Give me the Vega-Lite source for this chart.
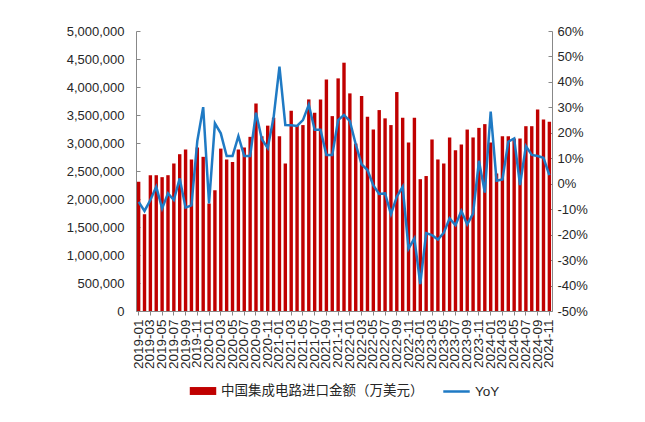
{
  "$schema": "https://vega.github.io/schema/vega-lite/v6.json",
  "width": 416,
  "height": 280,
  "padding": {"left": 66, "top": 25, "right": 10, "bottom": 10},
  "background": "white",
  "data": {"values": [
    {"month": "2019-01", "value": 2306000, "yoy": -7.1},
    {"month": "2019-02", "value": 1728000, "yoy": -10.7},
    {"month": "2019-03", "value": 2425000, "yoy": -6.4},
    {"month": "2019-04", "value": 2425000, "yoy": -1.2},
    {"month": "2019-05", "value": 2390000, "yoy": -9.7},
    {"month": "2019-06", "value": 2425000, "yoy": -3.8},
    {"month": "2019-07", "value": 2634000, "yoy": -6.4},
    {"month": "2019-08", "value": 2800000, "yoy": 2.1},
    {"month": "2019-09", "value": 2884000, "yoy": -9.4},
    {"month": "2019-10", "value": 2706000, "yoy": -8.5},
    {"month": "2019-11", "value": 2920000, "yoy": 16.8},
    {"month": "2019-12", "value": 2753000, "yoy": 30.1},
    {"month": "2020-01", "value": 1919000, "yoy": -7.7},
    {"month": "2020-02", "value": 2157000, "yoy": 23.7},
    {"month": "2020-03", "value": 2900000, "yoy": 19.8},
    {"month": "2020-04", "value": 2706000, "yoy": 10.9},
    {"month": "2020-05", "value": 2660000, "yoy": 10.9},
    {"month": "2020-06", "value": 2884000, "yoy": 18.7},
    {"month": "2020-07", "value": 2920000, "yoy": 10.9},
    {"month": "2020-08", "value": 3110000, "yoy": 10.9},
    {"month": "2020-09", "value": 3707000, "yoy": 27.9},
    {"month": "2020-10", "value": 3120000, "yoy": 17.5},
    {"month": "2020-11", "value": 3310000, "yoy": 14.0},
    {"month": "2020-12", "value": 3450000, "yoy": 26.0},
    {"month": "2021-01", "value": 3120000, "yoy": 46.0},
    {"month": "2021-02", "value": 2634000, "yoy": 23.1},
    {"month": "2021-03", "value": 3576000, "yoy": 23.0},
    {"month": "2021-04", "value": 3320000, "yoy": 22.7},
    {"month": "2021-05", "value": 3320000, "yoy": 25.0},
    {"month": "2021-06", "value": 3778000, "yoy": 31.0},
    {"month": "2021-07", "value": 3540000, "yoy": 21.2},
    {"month": "2021-08", "value": 3778000, "yoy": 21.2},
    {"month": "2021-09", "value": 4136000, "yoy": 11.3},
    {"month": "2021-10", "value": 3480000, "yoy": 11.3},
    {"month": "2021-11", "value": 4154000, "yoy": 25.0},
    {"month": "2021-12", "value": 4434000, "yoy": 27.0},
    {"month": "2022-01", "value": 3886000, "yoy": 24.6},
    {"month": "2022-02", "value": 2990000, "yoy": 15.5},
    {"month": "2022-03", "value": 3838000, "yoy": 7.6},
    {"month": "2022-04", "value": 3468000, "yoy": 5.4},
    {"month": "2022-05", "value": 3240000, "yoy": -0.7},
    {"month": "2022-06", "value": 3588000, "yoy": -4.0},
    {"month": "2022-07", "value": 3440000, "yoy": -3.8},
    {"month": "2022-08", "value": 3320000, "yoy": -12.0},
    {"month": "2022-09", "value": 3910000, "yoy": -5.1},
    {"month": "2022-10", "value": 3450000, "yoy": -1.2},
    {"month": "2022-11", "value": 3010000, "yoy": -25.5},
    {"month": "2022-12", "value": 3450000, "yoy": -21.5},
    {"month": "2023-01", "value": 2354000, "yoy": -39.4},
    {"month": "2023-02", "value": 2410000, "yoy": -19.4},
    {"month": "2023-03", "value": 3063000, "yoy": -20.2},
    {"month": "2023-04", "value": 2706000, "yoy": -21.9},
    {"month": "2023-05", "value": 2634000, "yoy": -19.3},
    {"month": "2023-06", "value": 3099000, "yoy": -13.6},
    {"month": "2023-07", "value": 2872000, "yoy": -16.3},
    {"month": "2023-08", "value": 2974000, "yoy": -10.7},
    {"month": "2023-09", "value": 3240000, "yoy": -16.0},
    {"month": "2023-10", "value": 3099000, "yoy": -11.7},
    {"month": "2023-11", "value": 3270000, "yoy": 9.0},
    {"month": "2023-12", "value": 3337000, "yoy": -3.5},
    {"month": "2024-01", "value": 3007000, "yoy": 28.3},
    {"month": "2024-02", "value": 2455000, "yoy": 1.2},
    {"month": "2024-03", "value": 3120000, "yoy": 1.7},
    {"month": "2024-04", "value": 3120000, "yoy": 16.5},
    {"month": "2024-05", "value": 3080000, "yoy": 17.8},
    {"month": "2024-06", "value": 3080000, "yoy": -0.5},
    {"month": "2024-07", "value": 3300000, "yoy": 14.8},
    {"month": "2024-08", "value": 3300000, "yoy": 11.3},
    {"month": "2024-09", "value": 3600000, "yoy": 10.9},
    {"month": "2024-10", "value": 3420000, "yoy": 10.2},
    {"month": "2024-11", "value": 3380000, "yoy": 3.4}
  ]},
  "encoding": {
    "x": {
      "field": "month",
      "type": "ordinal",
      "title": null,
      "scale": {"paddingInner": 0.42, "paddingOuter": 0.16},
      "axis": {
        "labelAngle": -90,
        "values": ["2019-01","2019-03","2019-05","2019-07","2019-09","2019-11","2020-01","2020-03","2020-05","2020-07","2020-09","2020-11","2021-01","2021-03","2021-05","2021-07","2021-09","2021-11","2022-01","2022-03","2022-05","2022-07","2022-09","2022-11","2023-01","2023-03","2023-05","2023-07","2023-09","2023-11","2024-01","2024-03","2024-05","2024-07","2024-09","2024-11"],
        "labelFont": "Liberation Sans",
        "labelFontSize": 13.5,
        "labelColor": "#262626",
        "labelPadding": 4,
        "tickSize": 4,
        "tickColor": "#888888",
        "domainColor": "#888888",
        "labelOverlap": false
      }
    }
  },
  "layer": [
    {
      "mark": {"type": "bar"},
      "encoding": {
        "y": {
          "field": "value",
          "type": "quantitative",
          "title": null,
          "scale": {"domain": [0, 5000000], "nice": false},
          "axis": {
            "values": [0, 500000, 1000000, 1500000, 2000000, 2500000, 3000000, 3500000, 4000000, 4500000, 5000000],
            "format": ",d",
            "grid": false,
            "labelFont": "Liberation Sans",
            "labelFontSize": 13,
            "labelColor": "#262626",
            "tickSize": -4,
            "labelPadding": 16,
            "tickColor": "#888888",
            "domainColor": "#888888"
          }
        },
        "fill": {
          "datum": "中国集成电路进口金额（万美元）",
          "type": "nominal",
          "scale": {"range": ["#C00000"]},
          "legend": {
            "orient": "bottom",
            "direction": "horizontal",
            "title": null,
            "offset": 8,
            "symbolType": "M-1,-0.3H1V0.3H-1Z",
            "symbolSize": 700,
            "labelLimit": 400,
            "labelFont": "Noto Sans CJK SC",
            "labelFontSize": 13.5,
            "labelColor": "#262626"
          }
        }
      }
    },
    {
      "mark": {"type": "line", "strokeWidth": 2.5},
      "encoding": {
        "y": {
          "field": "yoy",
          "type": "quantitative",
          "title": null,
          "scale": {"domain": [-50, 60], "nice": false},
          "axis": {
            "orient": "right",
            "values": [-50, -40, -30, -20, -10, 0, 10, 20, 30, 40, 50, 60],
            "labelExpr": "datum.value + '%'",
            "grid": false,
            "labelFont": "Liberation Sans",
            "labelFontSize": 13,
            "labelColor": "#262626",
            "tickSize": -4,
            "labelPadding": 9,
            "tickColor": "#888888",
            "domainColor": "#888888"
          }
        },
        "stroke": {
          "datum": "YoY",
          "type": "nominal",
          "scale": {"range": ["#1F7AC4"]},
          "legend": {
            "orient": "bottom",
            "direction": "horizontal",
            "title": null,
            "offset": 8,
            "symbolType": "stroke",
            "symbolSize": 700,
            "symbolStrokeWidth": 2.5,
            "labelFont": "Liberation Sans",
            "labelFontSize": 13.5,
            "labelColor": "#262626"
          }
        }
      }
    }
  ],
  "resolve": {"scale": {"y": "independent", "fill": "independent", "stroke": "independent"}},
  "config": {
    "view": {"stroke": null},
    "legend": {"layout": {"bottom": {"anchor": "middle", "direction": "horizontal", "margin": 18}}}
  }
}
